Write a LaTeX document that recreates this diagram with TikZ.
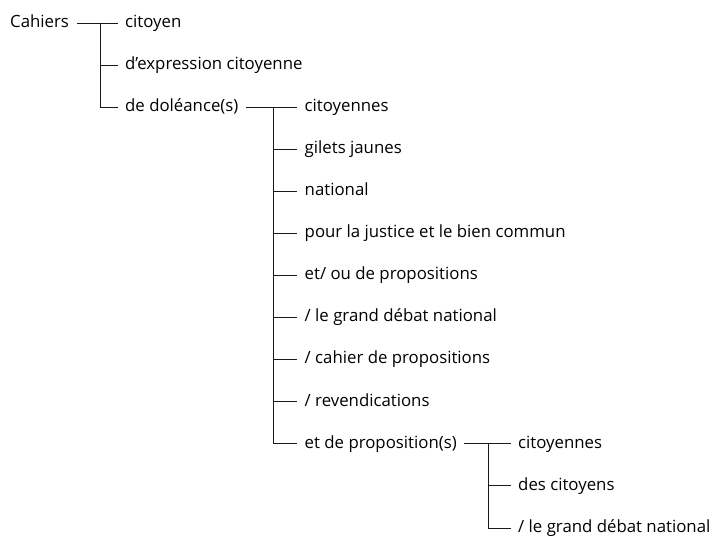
\documentclass[tikz,border=0pt]{standalone}
\usepackage{fontspec}
\setmainfont{Open Sans}
\tikzset{term/.style={anchor=west, inner xsep=7.5pt, inner ysep=0pt, text height=8.6pt, text depth=0pt, font=\fontsize{16.8}{20}\selectfont},
  branch/.style={line width=0.8pt, draw=black!90}}

\begin{document}
\begin{tikzpicture}[x=1pt,y=1pt]
\useasboundingbox (0,0) rectangle (715,537);
\node[term] (cahiers) at (2.5,514) {Cahiers};

\node[term] (citoyen) at (117.5,514) {citoyen};
\node[term] (expr) at (117.5,471.9) {d'expression citoyenne};
\node[term] (doleance) at (117.5,429.8) {de doléance(s)};

\node[term] (citoyennes) at (297,429.8) {citoyennes};
\node[term] (gilets) at (297,387.75) {gilets jaunes};
\node[term] (national) at (297,345.7) {national};
\node[term] (justice) at (297,303.6) {pour la justice et le bien commun};
\node[term] (etou) at (297,261.5) {et/ ou de propositions};
\node[term] (debat) at (297,219.4) {/ le grand débat national};
\node[term] (cahier) at (297,177.3) {/ cahier de propositions};
\node[term] (revend) at (297,135.25) {/ revendications};
\node[term] (prop) at (297,93.2) {et de proposition(s)};

\node[term] (propcit) at (510.5,93.2) {citoyennes};
\node[term] (descit) at (510.5,51.1) {des citoyens};
\node[term] (propdebat) at (510.5,9) {/ le grand débat national};

% branches
\coordinate (j1) at ([xshift=-17pt]citoyen.west);
\coordinate (j2) at ([xshift=-24pt]citoyennes.west);
\coordinate (j3) at ([xshift=-22.5pt]propcit.west);

\draw[branch] (cahiers.east) -- (citoyen.west);
\draw[branch] (j1) |- (doleance.west);
\draw[branch] (j1 |- expr.west) -- (expr.west);

\draw[branch] (doleance.east) -- (citoyennes.west);
\draw[branch] (j2) |- (prop.west);
\foreach \n in {gilets,national,justice,etou,debat,cahier,revend}
  \draw[branch] (j2 |- \n.west) -- (\n.west);

\draw[branch] (prop.east) -- (propcit.west);
\draw[branch] (j3) |- (propdebat.west);
\draw[branch] (j3 |- descit.west) -- (descit.west);
\end{tikzpicture}
\end{document}
